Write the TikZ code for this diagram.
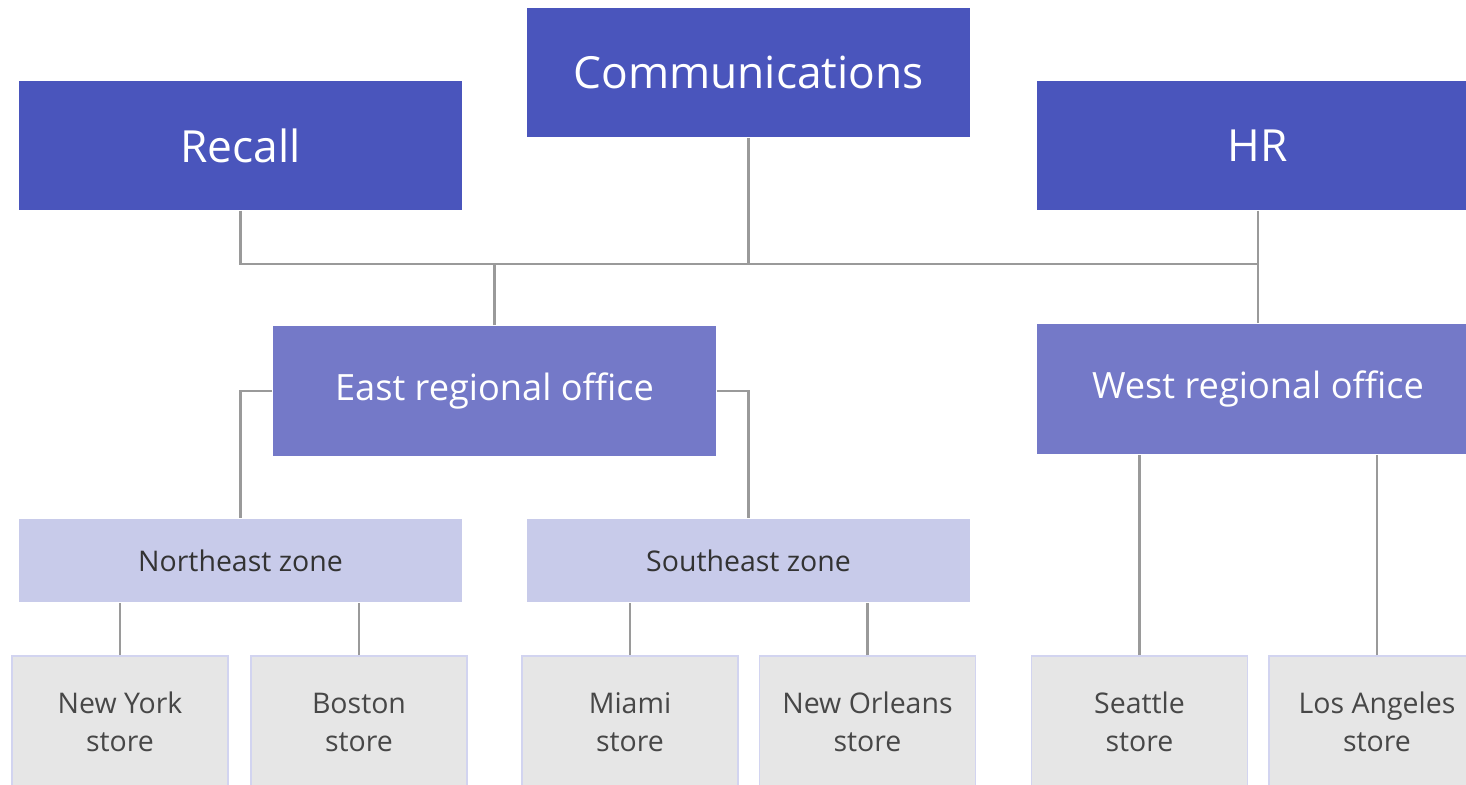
\documentclass[tikz,border=0pt]{standalone}
\usepackage{fontspec}
\setmainfont{Open Sans}
\usetikzlibrary{positioning,calc}
\definecolor{cTop}{HTML}{4A55BC}
\definecolor{cMid}{HTML}{7479C8}
\definecolor{cZone}{HTML}{C8CBEA}
\definecolor{cStore}{HTML}{E6E6E6}
\definecolor{cEdge}{HTML}{D2D4F0}
\definecolor{cLink}{HTML}{9A9A9A}
\definecolor{cText}{HTML}{333333}
\definecolor{cGray}{HTML}{474747}
\tikzset{
  topbox/.style={fill=cTop,text=white,minimum width=4.43cm,minimum height=1.29cm,
                 inner sep=0pt,font=\fontsize{12.6}{15}\selectfont},
  midbox/.style={fill=cMid,text=white,minimum width=4.43cm,minimum height=1.30cm,
                 inner sep=0pt,font=\fontsize{10.3}{13}\selectfont},
  zonebox/.style={fill=cZone,text=cText,minimum width=4.43cm,minimum height=0.83cm,
                 inner sep=0pt,font=\fontsize{8.1}{10}\selectfont},
  storebox/.style={fill=cStore,draw=cEdge,line width=0.5pt,text=cGray,
                 minimum width=2.16cm,minimum height=1.32cm,inner sep=0pt,
                 align=center,font=\fontsize{8.1}{10.8}\selectfont},
  link/.style={draw=cLink,line width=0.6pt},
}

\begin{document}
\begin{tikzpicture}
  \useasboundingbox (0,0) rectangle (14.66,-7.85);
  \clip (0,0) rectangle (14.66,-7.85);
  % head offices
  \node[topbox] (comm)   at (7.485,-0.725) {Communications};
  \node[topbox] (recall) at (2.405,-1.455) {Recall};
  \node[topbox] (hr)     at (12.58,-1.455) {HR};
  % regional offices
  \node[midbox] (east) at (4.945,-3.91) {East regional office};
  \node[midbox] (west) at (12.58,-3.89) {West regional office};
  % zones
  \node[zonebox] (ne) at (2.405,-5.605) {Northeast zone};
  \node[zonebox] (se) at (7.485,-5.605) {Southeast zone};
  % stores
  \node[storebox] (ny)  at (1.20,-7.22)  {New York\\store};
  \node[storebox] (bos) at (3.59,-7.22)  {Boston\\store};
  \node[storebox] (mia) at (6.30,-7.22)  {Miami\\store};
  \node[storebox] (no)  at (8.675,-7.22) {New Orleans\\store};
  \node[storebox] (sea) at (11.395,-7.22) {Seattle\\store};
  \node[storebox] (la)  at (13.77,-7.22) {Los Angeles\\store};

  % shared bus under the head offices
  \coordinate (bus) at (0,-2.64);
  \draw[link] (recall.south) -- (recall.south |- bus) -- (hr.south |- bus) -- (hr.south);
  \draw[link] (comm.south) -- (comm.south |- bus);
  \draw[link] (east.north) -- (east.north |- bus);
  \draw[link] (hr.south) -- (west.north);
  % regional offices to zones and stores
  \draw[link] (east.west) -| (ne.north);
  \draw[link] (east.east) -| (se.north);
  \draw[link] (sea.north) -- (sea.north |- west.south);
  \draw[link] (la.north) -- (la.north |- west.south);
  \draw[link] (ny.north) -- (ny.north |- ne.south);
  \draw[link] (bos.north) -- (bos.north |- ne.south);
  \draw[link] (mia.north) -- (mia.north |- se.south);
  \draw[link] (no.north) -- (no.north |- se.south);
\end{tikzpicture}
\end{document}
